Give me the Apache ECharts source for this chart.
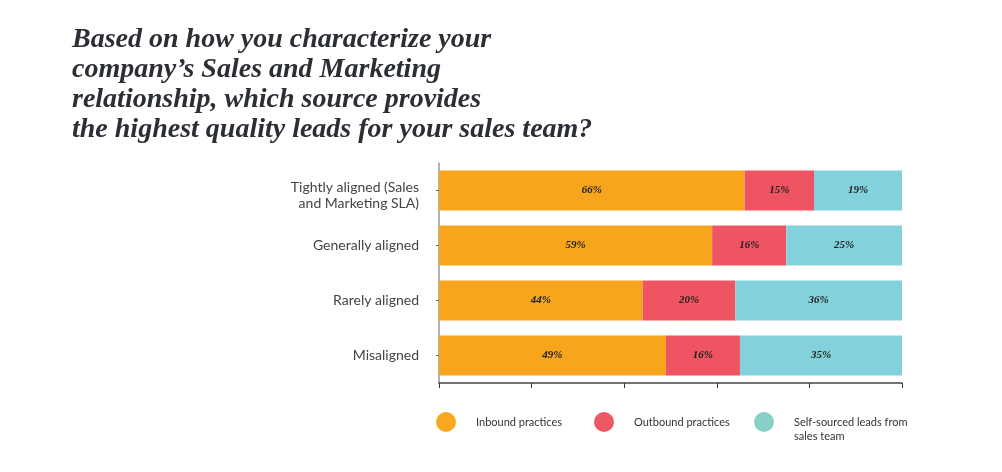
<!DOCTYPE html>
<html><head><meta charset="utf-8">
<script src="https://cdn.jsdelivr.net/npm/echarts@6/dist/echarts.min.js"></script>
<style>html,body{margin:0;padding:0;background:#fff}#c{width:1002px;height:472px}</style>
</head><body><div id="c"></div>
<script>
const categories = ['Tightly aligned (Sales\nand Marketing SLA)', 'Generally aligned', 'Rarely aligned', 'Misaligned'];
const inbound = [66, 59, 44, 49];
const outbound = [15, 16, 20, 16];
const selfSourced = [19, 25, 36, 35];
const seriesNames = ['Inbound practices', 'Outbound practices', 'Self-sourced leads from\nsales team'];
const barColors = ['#F7A51C', '#EE5461', '#83D1DA'];
const legendColors = ['#F9A81F', '#EB5A64', '#88CFC8'];
const titleText = 'Based on how you characterize your\ncompany\u2019s Sales and Marketing\nrelationship, which source provides\nthe highest quality leads for your sales team?';

const chart = echarts.init(document.getElementById('c'));
const labelStyle = {show: true, position: 'inside', formatter: '{c}%', fontFamily: 'Liberation Serif', fontStyle: 'italic', fontWeight: 'bold', fontSize: 11, color: '#222'};
const vals = [inbound, outbound, selfSourced];
chart.setOption({
  animation: false,
  title: {text: titleText, left: 67, top: 20, textStyle: {fontFamily: 'Liberation Serif', fontStyle: 'italic', fontWeight: 'bold', fontSize: 28, lineHeight: 30, color: '#2B2E35'}},
  legend: seriesNames.map((n, i) => ({
    data: [{name: n, itemStyle: {color: legendColors[i]}}],
    left: [431, 589, 749][i], top: i === 2 ? 396 : 407, icon: 'circle', itemWidth: 20, itemHeight: 20, itemGap: 10,
    formatter: i === 2 ? (name => ' \n' + name) : undefined,
    textStyle: {fontFamily: 'Lato', fontSize: 11, color: '#333', lineHeight: 14, padding: [0, 0, 0, 15]}
  })),
  grid: {left: 439, top: 163, width: 463, height: 220},
  xAxis: {type: 'value', min: 0, max: 100, interval: 20,
    axisLine: {show: true, lineStyle: {color: '#444', width: 1.5}},
    axisTick: {show: true, length: 5, lineStyle: {color: '#333'}},
    axisLabel: {show: false}, splitLine: {show: false}},
  yAxis: {type: 'category', inverse: true, data: categories,
    axisLine: {show: true, lineStyle: {color: '#999', width: 1.5}},
    axisTick: {show: true, alignWithLabel: true, length: 3, lineStyle: {color: '#666'}},
    axisLabel: {fontFamily: 'Lato', fontSize: 14, color: '#444', lineHeight: 16, margin: 20, align: 'right',
      formatter: (v, i) => i === 0 ? '{p|}\n' + v : v,
      rich: {p: {height: 9, lineHeight: 9}}}},
  series: seriesNames.map((n, i) => ({
    name: n, type: 'bar', stack: 'all', data: vals[i], barWidth: 40,
    itemStyle: {color: barColors[i]}, label: labelStyle
  }))
});
</script></body></html>
